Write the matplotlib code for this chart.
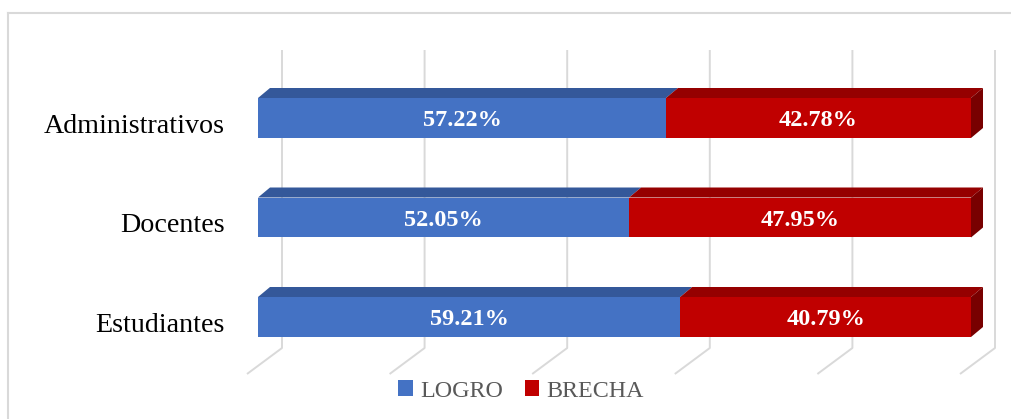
"""Stacked 3D-style bar chart: LOGRO vs BRECHA by group."""
import matplotlib
matplotlib.use("Agg")
import matplotlib.pyplot as plt
from matplotlib.patches import Polygon, Patch
from matplotlib.lines import Line2D

categories = ["Estudiantes", "Docentes", "Administrativos"]
logro = [59.21, 52.05, 57.22]
brecha = [40.79, 47.95, 42.78]
series_names = ["LOGRO", "BRECHA"]
grid_ticks = [0, 20, 40, 60, 80, 100]

W, H = 1011, 419
X0_PX, PX_PER_PCT = 258, 7.13      # 0% front face position, pixels per percent
Y0_PX, PX_PER_CAT = 317, 99.5      # first category centre, pixels per category

# depth offsets (data units)
bar_dx, bar_dy = 12 / PX_PER_PCT, 10 / PX_PER_CAT
floor_dx, floor_dy = 35 / PX_PER_PCT, 26 / PX_PER_CAT
front_gap = 11 / PX_PER_PCT
half_h = 0.201

colors = {
    "LOGRO": ("#4472C4", "#34589A", "#2A4780"),
    "BRECHA": ("#C00000", "#950000", "#780000"),
}
grid_color = "#D9D9D9"

fig = plt.figure(figsize=(W / 100, H / 100), dpi=100)
ax = fig.add_axes([0, 0, 1, 1])
ax.set_xlim(-X0_PX / PX_PER_PCT, (W - X0_PX) / PX_PER_PCT)
ax.set_ylim((Y0_PX - H) / PX_PER_CAT, Y0_PX / PX_PER_CAT)
ax.axis("off")

# perspective gridlines: back wall + floor
wall_top = (Y0_PX - 50) / PX_PER_CAT
wall_bottom = (Y0_PX - 348) / PX_PER_CAT
for t in grid_ticks:
    xf = t - front_gap
    xw = xf + floor_dx
    ax.plot([xw, xw, xf], [wall_top, wall_bottom, wall_bottom - floor_dy],
            color=grid_color, lw=1.4, zorder=1, solid_capstyle="butt")


def draw_segment(x0, x1, yc, name, end_cap=False):
    front, top, side = colors[name]
    yb, yt = yc - half_h, yc + half_h
    ax.add_patch(Polygon([(x0, yt), (x1, yt), (x1 + bar_dx, yt + bar_dy),
                          (x0 + bar_dx, yt + bar_dy)], closed=True,
                         facecolor=top, edgecolor="none", zorder=3))
    ax.add_patch(Polygon([(x0, yb), (x1, yb), (x1, yt), (x0, yt)], closed=True,
                         facecolor=front, edgecolor="none", zorder=4))
    if end_cap:
        ax.add_patch(Polygon([(x1, yb), (x1, yt), (x1 + bar_dx, yt + bar_dy),
                              (x1 + bar_dx, yb + bar_dy)], closed=True,
                             facecolor=side, edgecolor="none", zorder=3))


for i, cat in enumerate(categories):
    lo, br = logro[i], brecha[i]
    draw_segment(0, lo, i, "LOGRO")
    draw_segment(lo, lo + br, i, "BRECHA", end_cap=True)
    for x, v in [(lo / 2, lo), (lo + br / 2, br)]:
        ax.text(x, i - 0.03, f"{v:.2f}%", ha="center", va="center", color="white",
                fontsize=17.5, fontweight="bold", family="Liberation Serif", zorder=5)
    ax.text(-33 / PX_PER_PCT, i - 0.085, cat, ha="right", va="center",
            fontsize=20.2, family="Liberation Serif", color="black")

handles = [Patch(facecolor=colors[n][0], edgecolor="none") for n in series_names]
fig.legend(handles, series_names, loc="center", bbox_to_anchor=(521 / W, 1 - 391 / H),
           ncol=2, frameon=False, handlelength=0.6, handleheight=0.6,
           handletextpad=0.3, columnspacing=0.9,
           prop={"family": "Liberation Serif", "size": 17.3}, labelcolor="#595959")

# chart border (top and left visible)
fig.add_artist(Line2D([8 / W, 1], [1 - 13 / H, 1 - 13 / H], color=grid_color, lw=1.5))
fig.add_artist(Line2D([8 / W, 8 / W], [0, 1 - 13 / H], color=grid_color, lw=1.5))

fig.savefig("out.png", dpi=100)
